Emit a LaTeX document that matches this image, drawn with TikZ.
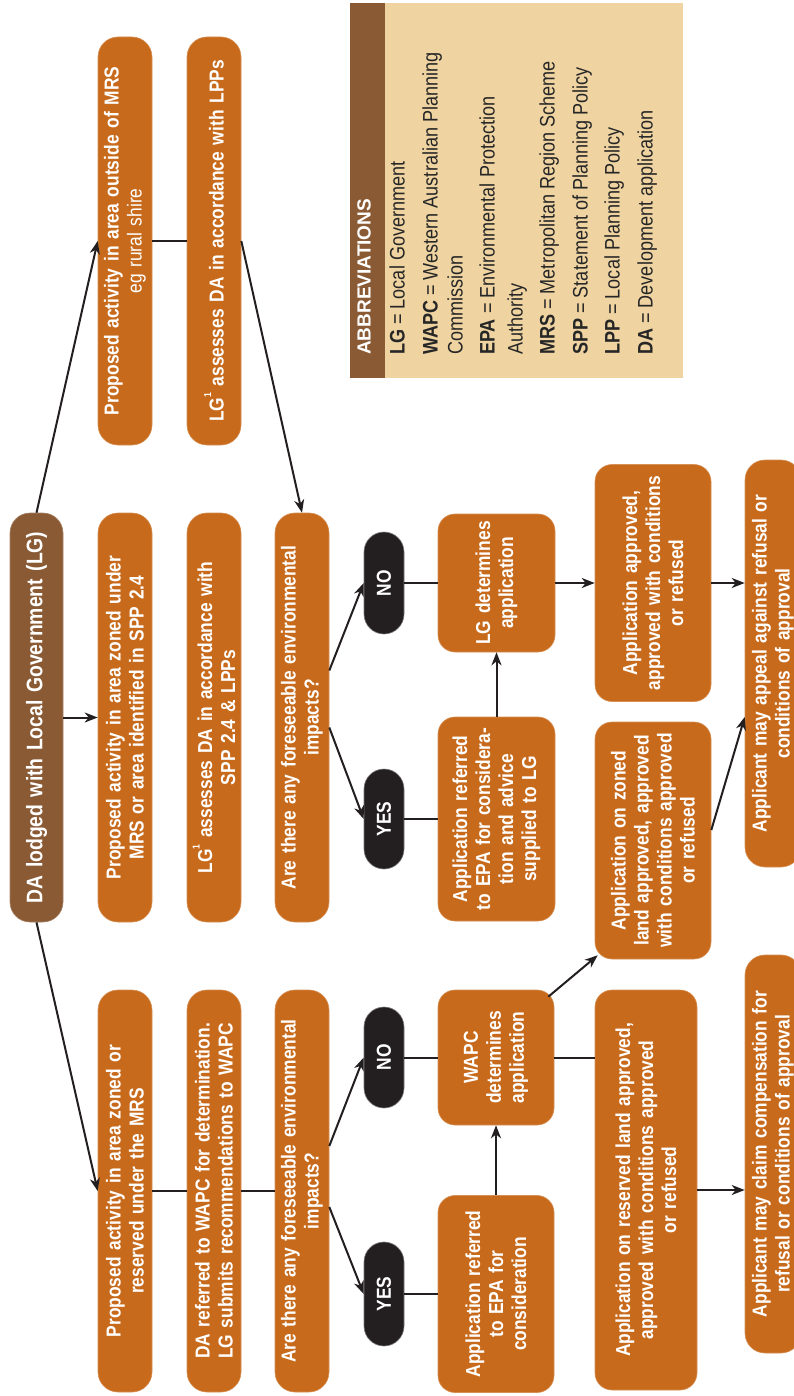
\documentclass[tikz,border=0pt]{standalone}
\usepackage{fontspec}
\setmainfont{Liberation Sans}
\newfontfamily\cnd{Liberation Sans}[FakeStretch=0.86]
\usetikzlibrary{arrows.meta}
\definecolor{boxor}{HTML}{C86A1B}
\definecolor{brownc}{HTML}{8A5A34}
\definecolor{pillc}{HTML}{231F20}
\definecolor{tanc}{HTML}{EFD4A2}
\definecolor{linec}{HTML}{231F20}
\newcommand\supone{\raisebox{0.62em}{\fontsize{10}{10}\selectfont 1}}
\begin{document}
\begin{tikzpicture}[x=1pt,y=-1pt,
  box/.style={rotate=90, fill=boxor, draw=boxor!75!white, line width=0.6pt, rounded corners=20pt, text=white, align=center, inner sep=0pt, font=\cnd\bfseries\fontsize{20.2}{23}\selectfont},
  wbox/.style={box, rounded corners=17pt},
  pill/.style={box, fill=pillc, draw=pillc!60!white, rounded corners=20pt},
  conn/.style={line width=2pt, draw=linec},
  arr/.style={conn, -{Stealth[length=13pt,width=10pt,inset=4pt]}},
  abbr/.style={rotate=90, anchor=mid west, inner sep=0pt, text=black!85, font=\cnd\fontsize{21}{24}\selectfont}
]
\useasboundingbox (0,0) rectangle (793,1396);
\fill[white] (0,0) rectangle (793,1396);

% abbreviations panel
\fill[tanc] (350,3) rectangle (683,378);
\fill[brownc] (350,3) rectangle (385,378);
\node[rotate=90, anchor=mid west, inner sep=0pt, text=white, font=\bfseries\fontsize{19}{22}\selectfont] (abh) at (368,355) {ABBREVIATIONS};
\node[abbr] (ab1) at (402,355) {\bfseries LG\mdseries\ = Local Government};
\node[abbr] (ab2) at (435,355) {\bfseries WAPC\mdseries\ = Western Australian Planning};
\node[abbr] (ab3) at (460,355) {Commission};
\node[abbr] (ab4) at (492,355) {\bfseries EPA\mdseries\ = Environmental Protection};
\node[abbr] (ab5) at (520,355) {Authority};
\node[abbr] (ab6) at (552,355) {\bfseries MRS\mdseries\ = Metropolitan Region Scheme};
\node[abbr] (ab7) at (585,355) {\bfseries SPP\mdseries\ = Statement of Planning Policy};
\node[abbr] (ab8) at (617,355) {\bfseries LPP\mdseries\ = Local Planning Policy};
\node[abbr] (ab9) at (650,355) {\bfseries DA\mdseries\ = Development application};

% main box
\node[box, fill=brownc, draw=brownc!75!white, minimum width=409pt, minimum height=53pt, text width=400pt, font=\cnd\bfseries\fontsize{22.5}{26}\selectfont] (da) at (36.5,717.5) {DA lodged with Local Government (LG)};

% top branch
\node[box, minimum width=408pt, minimum height=54pt, text width=400pt] (b1) at (125,241) {Proposed activity in area outside of MRS\\\mdseries eg rural shire};
\node[box, minimum width=408pt, minimum height=54pt, text width=400pt] (c1) at (214,241) {LG\supone{} assesses DA in accordance with LPPs};

% middle branch
\node[box, minimum width=409pt, minimum height=54pt, text width=400pt] (b2) at (125,717.5) {Proposed activity in area zoned under\\MRS or area identified in SPP 2.4};
\node[box, minimum width=409pt, minimum height=54pt, text width=400pt] (c2) at (214,717.5) {LG\supone{} assesses DA in accordance with\\SPP 2.4 \& LPPs};
\node[box, minimum width=409pt, minimum height=54pt, text width=400pt] (d2) at (302,717.5) {Are there any foreseeable environmental\\impacts?};
\node[pill, minimum width=102pt, minimum height=40pt, text width=94pt] (no2) at (384,583) {NO};
\node[pill, minimum width=100pt, minimum height=40pt, text width=92pt] (yes2) at (384,819) {YES};
\node[wbox, minimum width=138pt, minimum height=117pt, text width=130pt] (lgdet) at (496.5,583) {LG determines\\application};
\node[wbox, minimum width=204pt, minimum height=117pt, text width=196pt] (epa2) at (496.5,819) {Application referred\\to EPA for considera-\\tion and advice\\supplied to LG};
\node[wbox, minimum width=237pt, minimum height=116pt, text width=229pt] (appr) at (653,583) {Application approved,\\approved with conditions\\or refused};
\node[wbox, minimum width=237pt, minimum height=116pt, text width=229pt] (zoned) at (653,840.5) {Application on zoned\\land approved, approved\\with conditions approved\\or refused};
\node[box, minimum width=407pt, minimum height=56pt, text width=399pt] (appeal) at (773,663.5) {Applicant may appeal against refusal or\\conditions of approval};

% bottom branch
\node[box, minimum width=402pt, minimum height=54pt, text width=394pt] (b3) at (125,1191) {Proposed activity in area zoned or\\reserved under the MRS};
\node[box, minimum width=402pt, minimum height=54pt, text width=394pt] (c3) at (214,1191) {DA referred to WAPC for determination.\\LG submits recommendations to WAPC};
\node[box, minimum width=402pt, minimum height=54pt, text width=394pt] (d3) at (302,1191) {Are there any foreseeable environmental\\impacts?};
\node[pill, minimum width=101pt, minimum height=40pt, text width=93pt] (no3) at (384,1057.5) {NO};
\node[pill, minimum width=104pt, minimum height=40pt, text width=96pt] (yes3) at (384,1294) {YES};
\node[wbox, minimum width=135pt, minimum height=116pt, text width=127pt] (wapcdet) at (496,1057.5) {WAPC\\determines\\application};
\node[wbox, minimum width=197pt, minimum height=116pt, text width=189pt] (epa3) at (496,1294) {Application referred\\to EPA for\\consideration};
\node[wbox, minimum width=400pt, minimum height=102pt, text width=392pt] (reserved) at (646,1190) {Application on reserved land approved,\\approved with conditions approved\\or refused};
\node[box, minimum width=398pt, minimum height=56pt, text width=390pt] (comp) at (773,1154) {Applicant may claim compensation for\\refusal or conditions of approval};

% connectors
\draw[arr] (da) -- (b2);
\draw[arr] (da.east) -- (b1.north);
\draw[arr] (da.west) -- (b3.north);
\draw[conn] (b1) -- (c1);
\draw[arr] (c1.south) -- (d2.east);
\draw[arr] ([yshift=47pt]d2.south) -- (no2.north);
\draw[arr] ([yshift=-10pt]d2.south) -- (yes2.north);
\draw[conn] (no2) -- (lgdet);
\draw[conn] (yes2) -- (epa2);
\draw[arr] (epa2) -- (lgdet);
\draw[arr] (lgdet) -- (appr);
\draw[arr] (appr.south) -- (appr.south -| appeal.north);
\draw[arr] ([yshift=10.5pt]zoned.south) -- ([yshift=-53.5pt]appeal.north);
\draw[conn] (b3) -- (c3);
\draw[conn] (c3) -- (d3);
\draw[arr] ([yshift=45pt]d3.south) -- (no3.north);
\draw[arr] ([yshift=-16pt]d3.south) -- (yes3.north);
\draw[conn] (no3) -- (wapcdet);
\draw[conn] (yes3) -- (epa3);
\draw[arr] (epa3) -- (wapcdet);
\draw[conn] (wapcdet) -- (wapcdet -| reserved.north);
\draw[arr] ([xshift=-6pt,yshift=-7pt]wapcdet.south east) -- ([xshift=3pt,yshift=4pt]zoned.north west);
\draw[arr] (reserved.south) -- (reserved.south -| comp.north);
\end{tikzpicture}
\end{document}
